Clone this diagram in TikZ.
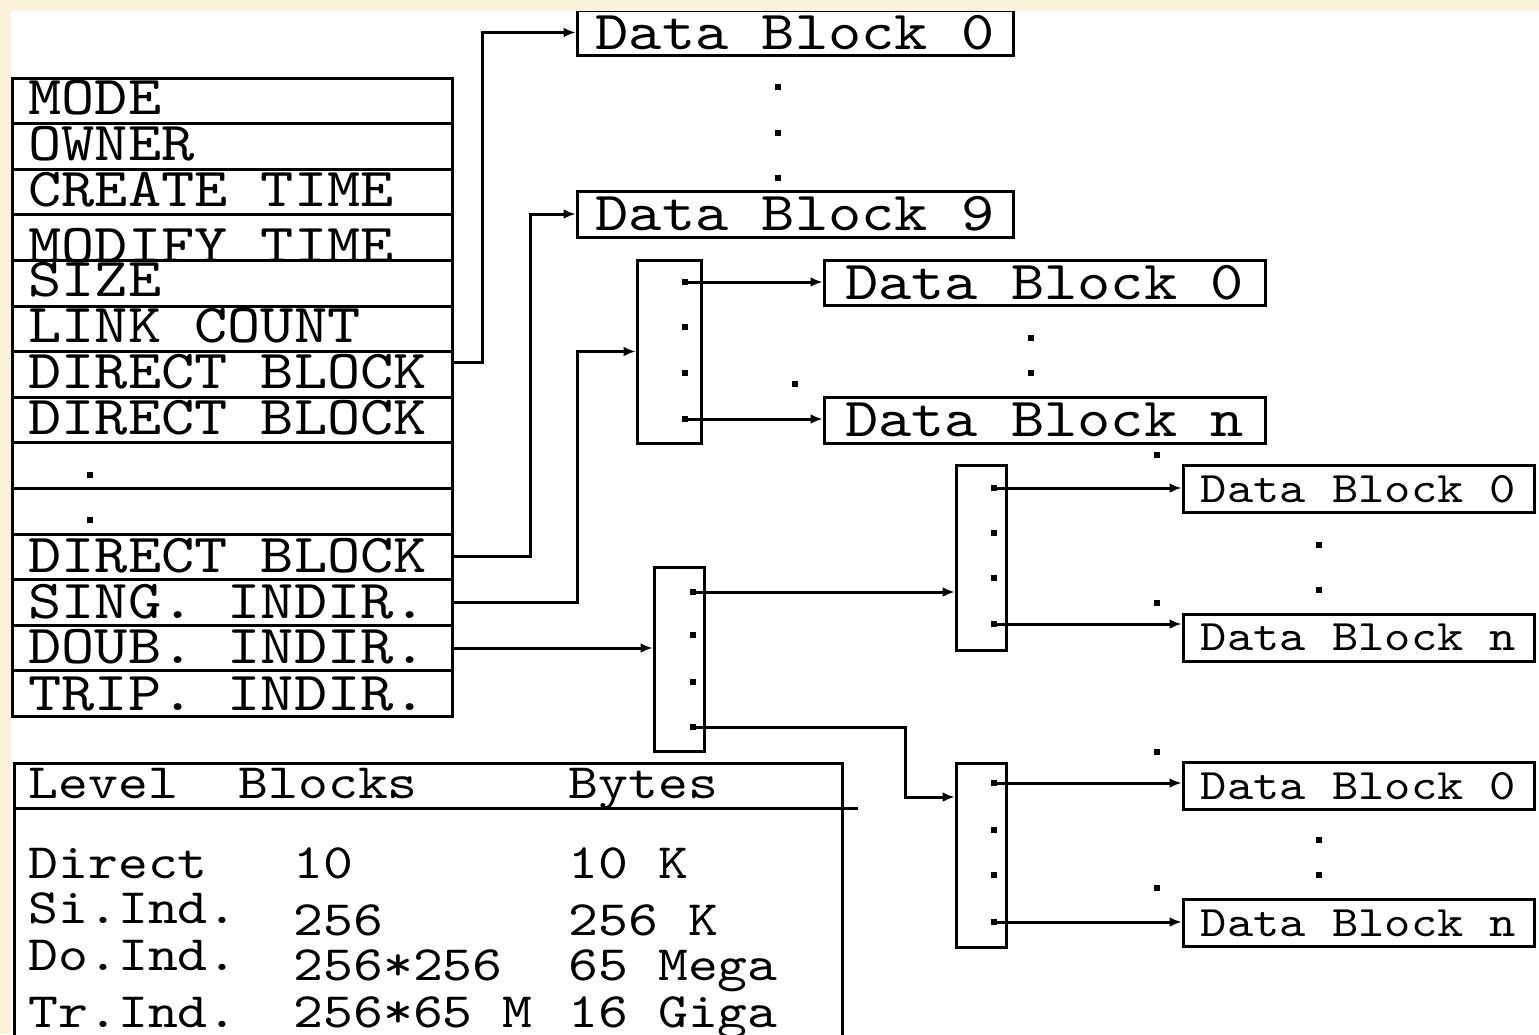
\documentclass[tikz,border=0pt]{standalone}
\usepackage{fontspec}
\usepackage{tikz}
\usetikzlibrary{arrows.meta,calc}
\newfontfamily\monofont[Extension=.otf, FakeStretch=1.15]{lmmono10-regular}
\definecolor{pagecream}{RGB}{252,241,217}
\newcommand{\inodefont}{\monofont\fontsize{55}{55}\selectfont}
\newcommand{\blockfont}{\monofont\fontsize{55}{55}\selectfont}
\newcommand{\leaffont}{\monofont\fontsize{43.5}{43.5}\selectfont}
\newcommand{\levelfont}{\monofont\fontsize{49.5}{49.5}\selectfont}

\begin{document}
\begin{tikzpicture}[x=1pt, y=-1pt, line width=3pt, >={Latex[length=12pt,width=10pt]},
  field/.style={draw, minimum width=440pt, minimum height=45.6pt, inner sep=0pt},
  fieldtext/.style={anchor=base west, inner sep=0pt, font=\inodefont},
  datablk/.style={draw, inner sep=0pt, minimum width=436pt, minimum height=45pt, font=\blockfont},
  leafblk/.style={draw, inner sep=0pt, minimum width=351pt, minimum height=47pt, font=\leaffont},
  ptrblk/.style={draw, inner sep=0pt, minimum width=50pt, minimum height=184pt},
  cell/.style={anchor=base west, inner sep=0pt, font=\levelfont}]

  \useasboundingbox (0,0) rectangle (1539,1034);
  \clip (0,0) rectangle (1539,1034);
  \fill[white] (0,0) rectangle (1539,1034);

  % i-node fields
  \foreach \i in {0,...,13}
    \node[field] (f\i) at (232.5,{100.8+45.6*\i}) {};
  \foreach \i/\txt/\bl in {0/MODE/114, 1/OWNER/160, 2/CREATE TIME/206, 3/MODIFY TIME/262,
      4/SIZE/296, 5/LINK COUNT/342, 6/DIRECT BLOCK/388, 7/DIRECT BLOCK/434,
      10/DIRECT BLOCK/572, 11/SING. INDIR./618, 12/DOUB. INDIR./663, 13/TRIP. INDIR./710}
    \node[fieldtext] (t\i) at (27,\bl) {\txt};

  % direct blocks
  \node[datablk] (blk0) at (795,32.5) {Data Block 0};
  \node[datablk, minimum height=46pt] (blk9) at (795,214) {Data Block 9};

  % single indirect
  \node[ptrblk, minimum width=64pt, minimum height=183pt] (sgl) at (669,351.5) {};
  \node[datablk, minimum width=441pt] (sgl0) at (1044.5,282.5) {Data Block 0};
  \node[datablk, minimum width=441pt, minimum height=46pt] (sgln) at (1044.5,420) {Data Block n};

  % double indirect
  \node[ptrblk] (dbl) at (679,659) {};
  \node[ptrblk, minimum height=185pt] (dblA) at (981,557.5) {};
  \node[ptrblk] (dblB) at (981,855) {};
  \node[leafblk] (dblA0) at (1358.5,489) {Data Block 0};
  \node[leafblk] (dblAn) at (1358.5,637.5) {Data Block n};
  \node[leafblk] (dblB0) at (1358.5,786) {Data Block 0};
  \node[leafblk] (dblBn) at (1358.5,923) {Data Block n};

  % size table
  \node[draw, minimum width=828pt, minimum height=300pt, inner sep=0pt] (levels) at (428,913) {};
  \coordinate (hdr) at (858,808);
  \draw (levels.west |- hdr) -- (hdr);
  \foreach \cx/\by/\txt [count=\k] in {27/798/Level, 237/798/Blocks, 567/798/Bytes,
      27/878/Direct, 292/878/10, 567/878/10 K,
      27/923/Si.Ind., 292/935/256, 567/935/256 K,
      27/970/Do.Ind., 292/980/256*256, 567/980/65 Mega,
      27/1027/Tr.Ind., 292/1027/256*65 M, 567/1027/16 Giga}
    \node[cell] (c\k) at (\cx,\by) {\txt};

  % dots
  \foreach \x/\y in {778/87, 778/133, 778/178, 90/475, 90/520,
      685/282, 685/327, 685/373, 685/419, 1031/338, 1031/373, 795/384,
      1157/455, 1157/603, 1157/752, 1157/888,
      693/592, 693/635, 693/682, 693/727,
      994/488, 994/533, 994/578, 994/624, 1319/545, 1319/590,
      994/783, 994/830, 994/875, 994/922, 1319/840, 1319/875}
    \fill (\x-3,\y-3) rectangle ++(6,6);

  % pointers
  \coordinate (sp0) at (685,282);
  \coordinate (spn) at (685,419);
  \coordinate (dp0) at (693,592);
  \coordinate (dpn) at (693,727);
  \coordinate (ap0) at (994,488);
  \coordinate (apn) at (994,624);
  \coordinate (bp0) at (994,783);
  \coordinate (bpn) at (994,922);
  \coordinate (bend) at (905,797);

  \draw[->] ([yshift=12pt]f6.east) -- ++(28,0) |- (blk0.west);
  \draw[->] (f10.east) -- ++(76,0) |- (blk9.west);
  \draw[->] (f11.east) -- ++(123,0) |- (sgl.west);
  \draw[->] (f12.east) -- (f12.east -| dbl.west);
  \draw[->] (sp0) -- (sp0 -| sgl0.west);
  \draw[->] (spn) -- (spn -| sgln.west);
  \draw[->] (dp0) -- (dp0 -| dblA.west);
  \draw[->] (dpn) -| (bend) -- (bend -| dblB.west);
  \draw[->] (ap0) -- (ap0 -| dblA0.west);
  \draw[->] (apn) -- (apn -| dblAn.west);
  \draw[->] (bp0) -- (bp0 -| dblB0.west);
  \draw[->] (bpn) -- (bpn -| dblBn.west);

  % page edge
  \fill[pagecream] (0,0) rectangle (1539,11);
  \fill[pagecream] (0,0) rectangle (11,1034);
\end{tikzpicture}
\end{document}
